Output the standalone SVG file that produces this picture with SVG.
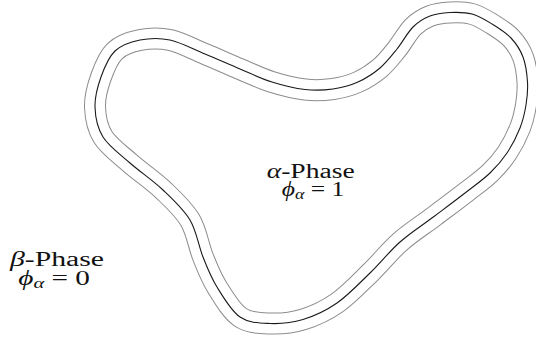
<svg xmlns="http://www.w3.org/2000/svg" xmlns:xlink="http://www.w3.org/1999/xlink" width="536" height="339" viewBox="0 0 536 339">
<style>
text{font-family:"Liberation Serif","Times New Roman",serif;font-size:20px;fill:#111}
.i{font-style:italic}
.s{font-style:italic;font-size:14px}
.band{fill:none;stroke:#8c8c8c;stroke-width:22}
.gap{fill:none;stroke:#fff;stroke-width:20}
.mid{fill:none;stroke:#1a1a1a;stroke-width:1.1}
</style>
<defs>
<path id="iface" d="M95,107 C94.67,97 97.67,86.33 101,77 C104.33,67.67 108.5,57.17 115,51 C121.5,44.83 130.83,41.83 140,40 C149.17,38.17 159.17,37.67 170,40 C180.83,42.33 193.33,49.17 205,54 C216.67,58.83 228.830,64.33 240,69 C251.17,73.67 261.17,78.58 272,82 C282.83,85.42 294.83,88.33 305,89.5 C315.17,90.67 324.17,90.25 333,89 C341.83,87.75 350.17,85.5 358,82 C365.83,78.5 373.5,73.5 380,68 C386.5,62.5 391.5,55.83 397,49 C402.5,42.17 407.5,32.5 413,27 C418.5,21.5 423.83,18.42 430,16 C436.17,13.58 443,12.83 450,12.5 C457,12.17 465,12.08 472,14 C479,15.92 485.5,20 492,24 C498.5,28 505.83,32.5 511,38 C516.17,43.5 520.25,49.67 523,57 C525.75,64.33 527,74 527.5,82 C528,90 527.25,97.33 526,105 C524.75,112.67 523.17,120 520,128 C516.83,136 512,145.5 507,153 C502,160.5 496.67,166.58 490,173 C483.33,179.42 476.33,184.25 467,191.5 C457.67,198.75 445.17,208.08 434,216.5 C422.83,224.92 410.67,232.58 400,242 C389.33,251.42 380.5,262.83 370,273 C359.5,283.17 348.17,295.25 337,303 C325.83,310.75 314.17,316.08 303,319.5 C291.83,322.92 280.5,323.92 270,323.5 C259.5,323.08 248.83,323.08 240,317 C231.17,310.92 223.17,297 217,287 C210.83,277 207.5,268.17 203,257 C198.5,245.83 196.67,231.17 190,220 C183.33,208.83 173,199.5 163,190 C153,180.5 140,171.83 130,163 C120,154.17 108.83,146.33 103,137 C97.17,127.67 95.33,117 95,107 Z"/>
</defs>
<g id="interface">
<use xlink:href="#iface" class="band"/>
<use xlink:href="#iface" class="gap"/>
<use xlink:href="#iface" class="mid"/>
</g>
<g id="alpha-phase">
<text x="266.7" y="178" textLength="88" lengthAdjust="spacingAndGlyphs"><tspan class="i">α</tspan>-Phase</text>
<text x="281.7" y="196" textLength="62.6" lengthAdjust="spacingAndGlyphs"><tspan class="i">ϕ</tspan><tspan class="s" dy="3">α</tspan><tspan dy="-3"> = 1</tspan></text>
</g>
<g id="beta-phase">
<text x="10" y="266" textLength="94" lengthAdjust="spacingAndGlyphs"><tspan class="i">β</tspan>-Phase</text>
<text x="18.3" y="285" textLength="71.7" lengthAdjust="spacingAndGlyphs"><tspan class="i">ϕ</tspan><tspan class="s" dy="3">α</tspan><tspan dy="-3"> = 0</tspan></text>
</g>
</svg>
